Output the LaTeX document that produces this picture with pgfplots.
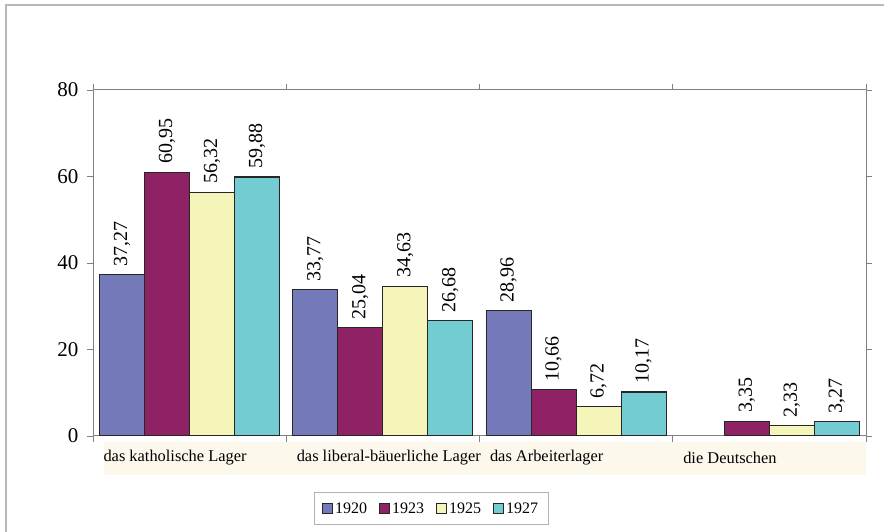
\documentclass[border=0pt]{standalone}
\usepackage{pgfplots}
\pgfplotsset{compat=1.18}
\usepackage{fontspec}
\setmainfont{Liberation Serif}
\definecolor{cA}{RGB}{116,121,186}
\definecolor{cB}{RGB}{142,34,101}
\definecolor{cC}{RGB}{245,245,186}
\definecolor{cD}{RGB}{114,204,210}
\definecolor{band}{RGB}{253,248,236}
\definecolor{axgray}{RGB}{128,128,128}
\begin{document}
\begin{tikzpicture}
\useasboundingbox (0,0) rectangle (884pt,532pt);
\draw[black!28, line width=1.5pt] (6pt,0pt) -- (6pt,527pt) -- (884pt,527pt);
\fill[band] (104pt,57pt) rectangle (866pt,90pt);
\begin{axis}[
  at={(93pt,96pt)}, anchor=south west,
  scale only axis, width=773pt, height=346pt,
  xmin=-0.5, xmax=3.5, ymin=0, ymax=80,
  ytick={0,20,40,60,80},
  xtick={-0.5,0.5,1.5,2.5,3.5},
  xticklabels={das katholische Lager, das liberal-bäuerliche Lager, das Arbeiterlager, die Deutschen, {}},
  x tick label style={anchor=west, xshift=7pt, yshift=-16pt, font=\fontsize{16.4}{19}\selectfont},
  y tick label style={xshift=-5pt, font=\fontsize{21}{24}\selectfont},
  /pgf/number format/assume math mode=true,
  axis line style={axgray, line width=1pt},
  major tick style={axgray, line width=0.8pt},
  major tick length=6pt,
  ytick align=outside, xtick align=center,
  ybar, bar width=45pt,
  every axis plot/.append style={draw=black!85, line width=1.1pt},
  nodes near coords,
  nodes near coords style={/pgf/number format/use comma, /pgf/number format/fixed, /pgf/number format/fixed zerofill, /pgf/number format/precision=2, /pgf/number format/assume math mode=true},
  every node near coord/.append style={rotate=90, anchor=west, inner xsep=8pt, inner ysep=0pt, font=\fontsize{20}{24}\selectfont, text=black},
  legend columns=4,
  legend style={draw=black!30, line width=0.8pt, at={(axis description cs:0.4375,-0.2095)}, anchor=center,
    font=\fontsize{16}{18}\selectfont, inner xsep=8pt, inner ysep=8pt,
    /tikz/every even column/.append style={column sep=10pt}},
  legend image code/.code={\draw[#1, line width=1pt] (0pt,-5pt) rectangle (10pt,5pt);},
]
\addplot[fill=cA, bar shift=-67.5pt] coordinates {(0,37.27) (1,33.77) (2,28.96)};
\addplot[fill=cB, bar shift=-22.5pt] coordinates {(0,60.95) (1,25.04) (2,10.66) (3,3.35)};
\addplot[fill=cC, bar shift=22.5pt] coordinates {(0,56.32) (1,34.63) (2,6.72) (3,2.33)};
\addplot[fill=cD, bar shift=67.5pt] coordinates {(0,59.88) (1,26.68) (2,10.17) (3,3.27)};
\legend{1920,1923,1925,1927}
\end{axis}
\end{tikzpicture}
\end{document}
